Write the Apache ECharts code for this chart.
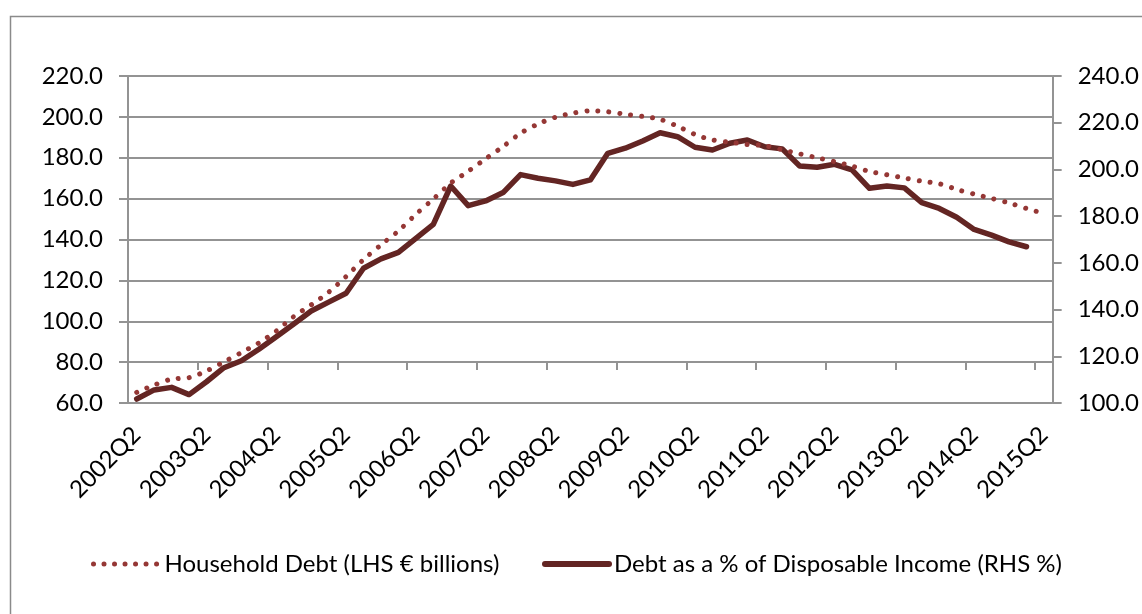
<!DOCTYPE html>
<html>
<head>
<meta charset="utf-8">
<title>Household Debt</title>
<script src="https://cdn.jsdelivr.net/npm/echarts@6/dist/echarts.min.js"></script>
<style>
  html, body { margin: 0; padding: 0; background: #fff; }
  #chart { width: 1142px; height: 614px; }
</style>
</head>
<body>
<div id="chart"></div>
<script>
// Quarterly categories, 2002Q2 .. 2015Q2
const quarters = [];
for (let y = 2002; y <= 2015; y++) {
  for (let q = 1; q <= 4; q++) {
    if ((y === 2002 && q < 2) || (y === 2015 && q > 2)) continue;
    quarters.push(y + 'Q' + q);
  }
}

// Household debt, € billions (left axis)
const householdDebt = [
  65.2, 68.8, 71.7, 72.4, 75.7, 80.1, 84.7, 89.4, 95.2, 102.3,
  108.0, 114.2, 121.9, 130.2, 137.4, 144.2, 152.3, 159.8, 167.6, 173.4,
  179.5, 185.5, 192.0, 196.5, 199.8, 201.8, 203.0, 202.5, 201.3, 200.2,
  198.8, 195.4, 191.4, 188.7, 187.6, 186.5, 185.9, 183.9, 181.9, 180.0,
  178.1, 175.9, 173.3, 171.7, 170.1, 168.5, 167.3, 164.5, 162.2, 160.1,
  157.9, 155.2, 152.7
];

// Debt as a % of disposable income (right axis); no figure yet for 2015Q2
const debtToIncome = [
  101.7, 105.6, 106.7, 103.6, 109.1, 115.1, 118.1, 123.0, 128.4, 133.8,
  139.4, 143.2, 147.0, 157.7, 161.7, 164.5, 170.5, 176.5, 192.9, 184.5,
  186.5, 190.1, 197.8, 196.2, 195.1, 193.6, 195.5, 206.9, 209.1, 212.2,
  215.7, 214.0, 209.5, 208.3, 211.2, 212.6, 209.7, 208.8, 201.5, 200.9,
  202.2, 199.8, 191.9, 192.9, 192.1, 185.8, 183.3, 179.5, 174.3, 171.9,
  169.0, 166.9, null
];

const seriesNames = [
  'Household Debt (LHS € billions)',
  'Debt as a % of Disposable Income (RHS %)'
];

const FONT = 'Lato, "Open Sans", sans-serif';
const GRID_GRAY = '#939393';
const DOT_RED = '#953735';
const LINE_MAROON = '#632523';

const chart = echarts.init(document.getElementById('chart'), null, { renderer: 'canvas' });

chart.setOption({
  animation: false,
  backgroundColor: '#fff',
  textStyle: { fontFamily: FONT },
  graphic: [{
    type: 'rect',
    shape: { x: 10.5, y: 16.5, width: 1300, height: 800 },
    style: { fill: 'none', stroke: '#8a8a8a', lineWidth: 1.5 },
    silent: true
  }],
  grid: { left: 128, right: 85, top: 76, bottom: 211, containLabel: false },
  legend: [{
    data: [seriesNames[0]],
    left: 86, top: 547,
    itemWidth: 66, itemHeight: 14,
    itemGap: 0,
    textStyle: { fontFamily: FONT, fontSize: 24, color: '#000' },
    itemStyle: { opacity: 0, borderWidth: 0 },
    lineStyle: { type: [0.01, 10.5], cap: 'round', width: 5, color: DOT_RED }
  }, {
    data: [seriesNames[1]],
    left: 537, top: 547,
    itemWidth: 64, itemHeight: 14,
    textStyle: { fontFamily: FONT, fontSize: 24, color: '#000' },
    itemStyle: { opacity: 0, borderWidth: 0 },
    lineStyle: { width: 6, cap: 'round', color: LINE_MAROON }
  }],
  xAxis: [{
    type: 'category',
    data: quarters,
    boundaryGap: true,
    axisLine: { show: false },
    axisTick: { show: false },
    axisLabel: {
      interval: 3,
      rotate: 45,
      margin: 28,
      fontSize: 24,
      fontFamily: FONT,
      color: '#000'
    },
    splitLine: { show: false }
  }, {
    // tick row sitting on the 80.0 gridline
    type: 'category',
    data: quarters,
    position: 'bottom',
    offset: -41,
    boundaryGap: true,
    axisLine: { show: false },
    axisTick: { show: true, interval: 3, length: 8, lineStyle: { color: GRID_GRAY, width: 2 } },
    axisLabel: { show: false },
    splitLine: { show: false }
  }],
  yAxis: [{
    type: 'value',
    position: 'left',
    min: 60, max: 220, interval: 20,
    axisLine: { show: true, lineStyle: { color: GRID_GRAY, width: 2 } },
    axisTick: { show: true, length: 9, lineStyle: { color: GRID_GRAY, width: 2 } },
    axisLabel: {
      margin: 25, fontSize: 24, fontFamily: FONT, color: '#000',
      formatter: v => v.toFixed(1)
    },
    splitLine: { show: true, lineStyle: { color: GRID_GRAY, width: 2 } }
  }, {
    type: 'value',
    position: 'right',
    min: 100, max: 240, interval: 20,
    axisLine: { show: true, lineStyle: { color: GRID_GRAY, width: 2 } },
    axisTick: { show: true, length: 9, lineStyle: { color: GRID_GRAY, width: 2 } },
    axisLabel: {
      margin: 25, fontSize: 24, fontFamily: FONT, color: '#000',
      formatter: v => v.toFixed(1)
    },
    splitLine: { show: false }
  }],
  series: [{
    name: seriesNames[0],
    type: 'line',
    yAxisIndex: 0,
    data: householdDebt,
    showSymbol: false,
    symbol: 'none',
    smooth: 0.3,
    z: 3,
    itemStyle: { color: DOT_RED },
    lineStyle: { color: DOT_RED, width: 5, type: [0.01, 11], cap: 'round' }
  }, {
    name: seriesNames[1],
    type: 'line',
    yAxisIndex: 1,
    data: debtToIncome,
    showSymbol: false,
    symbol: 'none',
    z: 2,
    itemStyle: { color: LINE_MAROON },
    lineStyle: { color: LINE_MAROON, width: 5.5, join: 'round', cap: 'round' }
  }]
});
</script>
</body>
</html>
